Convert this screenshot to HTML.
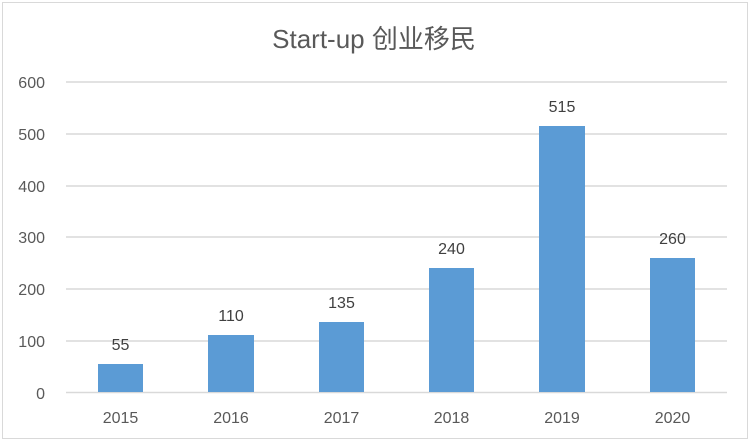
<!DOCTYPE html>
<html><head><meta charset="utf-8"><style>body{margin:0;background:#fff}svg{display:block}</style></head><body>
<svg width="750" height="441" xmlns="http://www.w3.org/2000/svg" font-family="Liberation Sans, Noto Sans CJK SC, sans-serif">
<rect x="0" y="0" width="750" height="441" fill="#fff"/>
<rect x="2.5" y="2.5" width="745" height="436" fill="none" stroke="#d9d9d9" stroke-width="1"/>
<text x="374" y="48" text-anchor="middle" font-size="26" fill="#595959">Start-up 创业移民</text>
<g stroke="#d9d9d9" stroke-width="1.5">
<line x1="66" x2="727" y1="82" y2="82"/><line x1="66" x2="727" y1="134" y2="134"/><line x1="66" x2="727" y1="186" y2="186"/><line x1="66" x2="727" y1="237" y2="237"/><line x1="66" x2="727" y1="289" y2="289"/><line x1="66" x2="727" y1="341" y2="341"/><line x1="66" x2="727" y1="392.5" y2="392.5"/>
</g>
<g font-size="16" fill="#595959" text-anchor="end">
<text x="45" y="88">600</text><text x="45" y="140">500</text><text x="45" y="192">400</text><text x="45" y="243">300</text><text x="45" y="295">200</text><text x="45" y="347">100</text><text x="45" y="399">0</text>
</g>
<g fill="#5b9bd5">
<rect x="98" y="364" width="45" height="28"/>
<rect x="208" y="335" width="46" height="57"/>
<rect x="319" y="322" width="45" height="70"/>
<rect x="429" y="268" width="45" height="124"/>
<rect x="539" y="126" width="46" height="266"/>
<rect x="650" y="258" width="45" height="134"/>
</g>
<g font-size="16" fill="#404040" text-anchor="middle">
<text x="120.5" y="350">55</text><text x="231" y="321">110</text><text x="341.5" y="308">135</text><text x="451.5" y="254">240</text><text x="562" y="112">515</text><text x="672.5" y="244">260</text>
</g>
<g font-size="16" fill="#595959" text-anchor="middle">
<text x="120.5" y="423">2015</text><text x="231" y="423">2016</text><text x="341.5" y="423">2017</text><text x="451.5" y="423">2018</text><text x="562" y="423">2019</text><text x="672.5" y="423">2020</text>
</g>
</svg>
</body></html>
